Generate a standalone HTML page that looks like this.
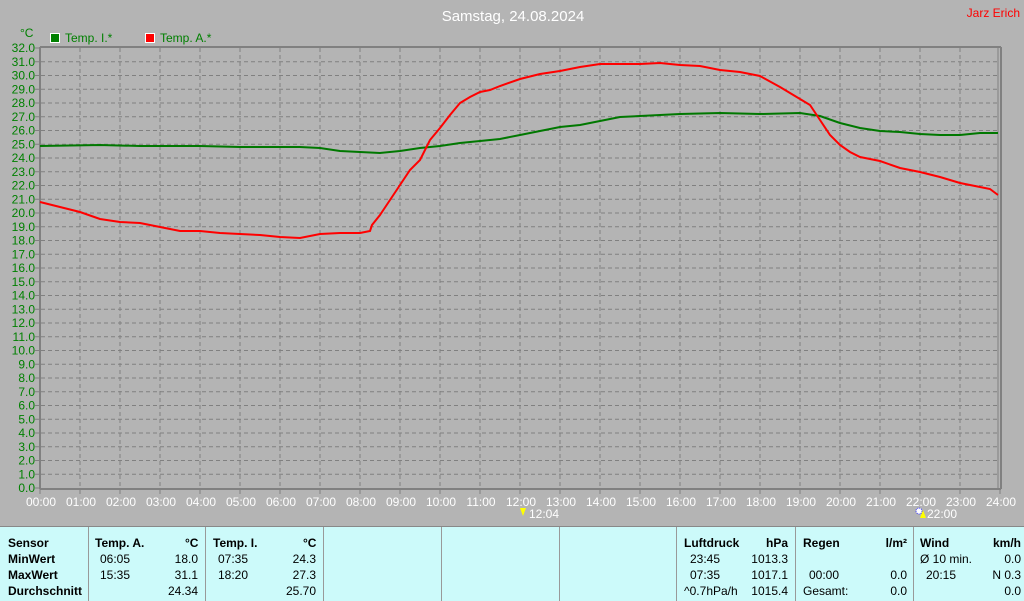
<!DOCTYPE html>
<html><head><meta charset="utf-8"><style>
body{margin:0;width:1024px;height:600px;overflow:hidden;background:#b4b4b4;font-family:"Liberation Sans",sans-serif;}
svg{position:absolute;left:0;top:0}
.tbl{position:absolute;left:0;top:526px;width:1024px;height:74px;background:#ccfafa;border-top:1px solid #888;}
.c{position:absolute;font-size:12px;color:#000;}
.b{font-weight:bold}
.sep{position:absolute;top:0;width:1px;height:74px;background:#999}
</style></head><body>
<svg width="1024" height="526" font-family="Liberation Sans, sans-serif">
<text x="513" y="21" fill="#fff" font-size="15" text-anchor="middle">Samstag, 24.08.2024</text>
<text x="1020" y="17" fill="#f00" font-size="12" text-anchor="end">Jarz Erich</text>
<text x="20" y="37" fill="#008000" font-size="12">°C</text>
<rect x="50.5" y="33.5" width="9" height="9" fill="#008000" stroke="#fff"/>
<text x="65" y="42" fill="#008000" font-size="12">Temp. I.*</text>
<rect x="145.5" y="33.5" width="9" height="9" fill="#f00" stroke="#fff"/>
<text x="160" y="42" fill="#008000" font-size="12">Temp. A.*</text>
<g id="grid" stroke="#808080" stroke-dasharray="4,3" stroke-width="1"></g>
<g id="yl" fill="#008000" font-size="12" text-anchor="end"></g>
<g id="xl" fill="#fff" font-size="12" text-anchor="middle"></g>
<line x1="40" y1="47" x2="1001" y2="47" stroke="#808080" stroke-width="2"/>
<line x1="40" y1="47" x2="40" y2="489" stroke="#808080" stroke-width="2"/>
<line x1="40" y1="489" x2="1001" y2="489" stroke="#808080" stroke-width="2"/>
<line x1="1001" y1="47" x2="1001" y2="489" stroke="#808080" stroke-width="2"/>
<line x1="998" y1="48" x2="998" y2="488" stroke="#808080" stroke-width="1"/>
<polyline fill="none" stroke="#007800" stroke-width="2" points="40,146 100,145 140,146 200,146 240,147 300,147 320,148 340,151 360,152 380,153 400,151 420,148 440,146 460,143 480,141 500,139 520,135 540,131 560,127 580,125 600,121 620,117 640,116 680,114 720,113 760,114 800,113 820,116 840,123 860,128 880,131 900,132 920,134 940,135 960,135 980,133 998,133"/>
<polyline fill="none" stroke="#f00" stroke-width="2" points="40,202 60,207 80,212 100,219 120,222 140,223 160,227 180,231 200,231 220,233 240,234 260,235 280,237 300,238 320,234 340,233 360,233 370,231 372,225 380,215 390,200 400,185 410,170 420,160 430,140 440,128 450,115 460,103 470,97 480,92 490,90 500,86 520,79 540,74 560,71 580,67 600,64 620,64 640,64 660,63 680,65 700,66 720,70 740,72 760,76 780,87 800,99 810,105 820,120 830,135 840,145 850,152 860,157 880,161 900,168 920,172 940,177 960,183 980,187 990,189 998,195"/>
<polygon points="520,508 526,508 523,516" fill="#ff0"/>
<text x="529" y="518" fill="#fff" font-size="12">12:04</text>
<circle cx="919" cy="511" r="3" fill="#fff" stroke="#33f" stroke-dasharray="1,1"/>
<polygon points="920,518 926,518 923,510" fill="#ff0"/>
<text x="927" y="518" fill="#fff" font-size="12">22:00</text>
</svg>
<div class="tbl">
<div class="sep" style="left:88px"></div><div class="sep" style="left:205px"></div><div class="sep" style="left:323px"></div><div class="sep" style="left:441px"></div><div class="sep" style="left:559px"></div><div class="sep" style="left:676px"></div><div class="sep" style="left:795px"></div><div class="sep" style="left:913px"></div>
<div class="c b" style="left:8px;top:9px">Sensor</div><div class="c b" style="left:8px;top:25px">MinWert</div><div class="c b" style="left:8px;top:41px">MaxWert</div><div class="c b" style="left:8px;top:57px">Durchschnitt</div>
<div class="c b" style="left:95px;top:9px">Temp. A.</div><div class="c b" style="left:185px;top:9px">°C</div>
<div class="c" style="left:100px;top:25px">06:05</div><div class="c" style="right:826px;top:25px">18.0</div>
<div class="c" style="left:100px;top:41px">15:35</div><div class="c" style="right:826px;top:41px">31.1</div>
<div class="c" style="right:826px;top:57px">24.34</div>
<div class="c b" style="left:213px;top:9px">Temp. I.</div><div class="c b" style="left:303px;top:9px">°C</div>
<div class="c" style="left:218px;top:25px">07:35</div><div class="c" style="right:708px;top:25px">24.3</div>
<div class="c" style="left:218px;top:41px">18:20</div><div class="c" style="right:708px;top:41px">27.3</div>
<div class="c" style="right:708px;top:57px">25.70</div>
<div class="c b" style="left:684px;top:9px">Luftdruck</div><div class="c b" style="right:236px;top:9px">hPa</div>
<div class="c" style="left:690px;top:25px">23:45</div><div class="c" style="right:236px;top:25px">1013.3</div>
<div class="c" style="left:690px;top:41px">07:35</div><div class="c" style="right:236px;top:41px">1017.1</div>
<div class="c" style="left:684px;top:57px">^0.7hPa/h</div><div class="c" style="right:236px;top:57px">1015.4</div>
<div class="c b" style="left:803px;top:9px">Regen</div><div class="c b" style="right:117px;top:9px">l/m²</div>
<div class="c" style="left:809px;top:41px">00:00</div><div class="c" style="right:117px;top:41px">0.0</div>
<div class="c" style="left:803px;top:57px">Gesamt:</div><div class="c" style="right:117px;top:57px">0.0</div>
<div class="c b" style="left:920px;top:9px">Wind</div><div class="c b" style="right:3px;top:9px">km/h</div>
<div class="c" style="left:920px;top:25px">Ø 10 min.</div><div class="c" style="right:3px;top:25px">0.0</div>
<div class="c" style="left:926px;top:41px">20:15</div><div class="c" style="right:3px;top:41px">N 0.3</div>
<div class="c" style="right:3px;top:57px">0.0</div>
</div>
<script>
var ns="http://www.w3.org/2000/svg",g=document.getElementById("grid"),yl=document.getElementById("yl"),xl=document.getElementById("xl");
function el(p,t,a,txt){var e=document.createElementNS(ns,t);for(var k in a)e.setAttribute(k,a[k]);if(txt!=null)e.textContent=txt;p.appendChild(e);}
for(var i=0;i<=32;i++){var y=48+(32-i)*13.75;if(i>0&&i<32)el(g,"line",{x1:41,y1:y,x2:998,y2:y});el(yl,"text",{x:35,y:y+4},i.toFixed(1));el(g,"line",{x1:35,y1:y,x2:40,y2:y,"stroke-dasharray":"none"});}
for(var h=0;h<=24;h++){var x=40+h*40;if(h>0&&h<24)el(g,"line",{x1:x,y1:48,x2:x,y2:488});el(g,"line",{x1:x,y1:489,x2:x,y2:494,"stroke-dasharray":"none"});el(xl,"text",{x:x+1,y:506},(h<10?"0":"")+h+":00");}
</script>
</body></html>
